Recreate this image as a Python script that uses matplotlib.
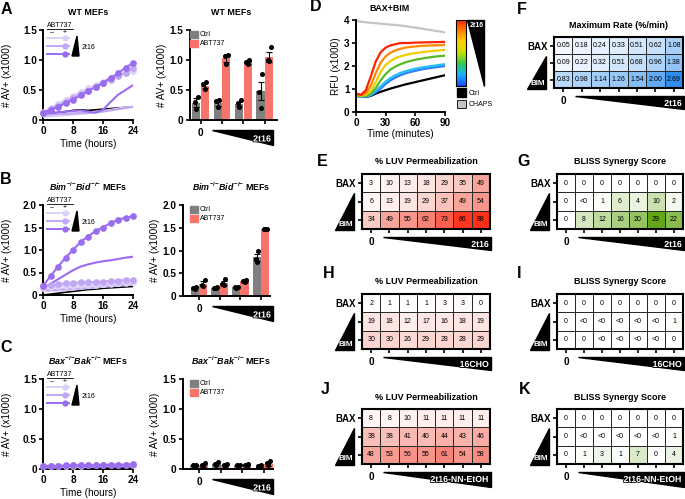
import numpy as np
import matplotlib
matplotlib.use('Agg')
import matplotlib.pyplot as plt
from matplotlib.colors import LinearSegmentedColormap
from matplotlib.patches import Polygon, Rectangle
import matplotlib.patheffects as pe

plt.rcParams['font.family'] = ['Liberation Sans', 'DejaVu Sans']
plt.rcParams['font.weight'] = 'bold'
plt.rcParams['mathtext.fontset'] = 'custom'
plt.rcParams['mathtext.rm'] = 'Liberation Sans:bold'
plt.rcParams['mathtext.it'] = 'Liberation Sans:italic:bold'
plt.rcParams['mathtext.bf'] = 'Liberation Sans:bold'

# ---------------- data ----------------
hours = [0, 2, 4, 6, 8, 10, 12, 14, 16, 18, 20, 22, 24]

A_black = [0.08, 0.10, 0.12, 0.14, 0.16, 0.17, 0.16, 0.17, 0.18, 0.19, 0.20, 0.21, 0.22]
A_minus = [[0.05, 0.06, 0.07, 0.08, 0.09, 0.10, 0.11, 0.13, 0.15, 0.17, 0.19, 0.21, 0.22],
           [0.08, 0.09, 0.10, 0.10, 0.11, 0.12, 0.12, 0.13, 0.14, 0.16, 0.18, 0.20, 0.22],
           [0.10, 0.12, 0.13, 0.14, 0.15, 0.16, 0.14, 0.12, 0.17, 0.30, 0.42, 0.50, 0.58]]
A_plus = [[0.14, 0.20, 0.27, 0.34, 0.40, 0.47, 0.53, 0.58, 0.64, 0.70, 0.74, 0.78, 0.82],
          [0.12, 0.18, 0.24, 0.30, 0.37, 0.43, 0.49, 0.55, 0.61, 0.67, 0.73, 0.79, 0.86],
          [0.12, 0.17, 0.22, 0.28, 0.34, 0.41, 0.48, 0.55, 0.62, 0.70, 0.78, 0.87, 0.95]]

B_black = [0.00, 0.02, 0.04, 0.06, 0.08, 0.10, 0.12, 0.13, 0.15, 0.16, 0.17, 0.18, 0.19]
B_minus = [[0.08, 0.09, 0.10, 0.11, 0.12, 0.14, 0.15, 0.17, 0.18, 0.20, 0.21, 0.22, 0.24],
           [0.10, 0.11, 0.12, 0.13, 0.14, 0.15, 0.16, 0.17, 0.19, 0.20, 0.22, 0.23, 0.25],
           [0.15, 0.25, 0.35, 0.45, 0.55, 0.63, 0.68, 0.72, 0.75, 0.77, 0.80, 0.83, 0.85]]
B_plus = [[0.15, 0.17, 0.19, 0.20, 0.21, 0.22, 0.22, 0.23, 0.24, 0.25, 0.26, 0.27, 0.28],
          [0.20, 0.22, 0.24, 0.26, 0.27, 0.28, 0.28, 0.29, 0.30, 0.31, 0.32, 0.33, 0.33],
          [0.20, 0.42, 0.63, 0.83, 1.00, 1.18, 1.30, 1.42, 1.50, 1.60, 1.67, 1.72, 1.75]]

C_black = [0.02, 0.02, 0.02, 0.02, 0.02, 0.02, 0.02, 0.02, 0.02, 0.02, 0.02, 0.02, 0.02]
C_minus = [[0.03, 0.03, 0.03, 0.04, 0.04, 0.04, 0.04, 0.04, 0.05, 0.05, 0.05, 0.05, 0.06],
           [0.03, 0.03, 0.04, 0.04, 0.04, 0.04, 0.05, 0.05, 0.05, 0.05, 0.05, 0.06, 0.06],
           [0.04, 0.04, 0.04, 0.04, 0.05, 0.05, 0.05, 0.05, 0.05, 0.06, 0.06, 0.06, 0.06]]
C_plus = [[0.05, 0.05, 0.05, 0.05, 0.05, 0.05, 0.06, 0.06, 0.06, 0.06, 0.06, 0.07, 0.07],
          [0.05, 0.05, 0.05, 0.05, 0.06, 0.06, 0.06, 0.06, 0.06, 0.07, 0.07, 0.07, 0.07],
          [0.05, 0.05, 0.05, 0.06, 0.06, 0.06, 0.06, 0.06, 0.07, 0.07, 0.07, 0.07, 0.08]]

bar_groups = ['0', 'low', 'mid', 'high']
A_ctrl_mean = [0.29, 0.28, 0.27, 0.48]
A_ctrl_sem = [0.07, 0.04, 0.03, 0.15]
A_ctrl_pts = [[0.38, 0.30, 0.18], [0.33, 0.32, 0.21], [0.33, 0.28, 0.22], [0.77, 0.47, 0.20]]
A_abt_mean = [0.57, 1.03, 0.96, 1.05]
A_abt_sem = [0.04, 0.06, 0.03, 0.09]
A_abt_pts = [[0.63, 0.60, 0.52], [1.09, 1.07, 0.93], [1.00, 0.97, 0.93], [1.22, 1.00, 0.98]]

B_ctrl_mean = [0.18, 0.18, 0.19, 0.85]
B_ctrl_sem = [0.02, 0.01, 0.01, 0.07]
B_ctrl_pts = [[0.20, 0.18, 0.16], [0.19, 0.18, 0.17], [0.20, 0.19, 0.18], [1.00, 0.82, 0.75]]
B_abt_mean = [0.27, 0.29, 0.33, 1.47]
B_abt_sem = [0.05, 0.04, 0.02, 0.01]
B_abt_pts = [[0.35, 0.25, 0.22], [0.37, 0.26, 0.24], [0.36, 0.33, 0.31], [1.47, 1.47, 1.47]]

C_ctrl_mean = [0.06, 0.08, 0.06, 0.05]
C_ctrl_sem = [0.01, 0.02, 0.01, 0.01]
C_ctrl_pts = [[0.07, 0.06, 0.05], [0.11, 0.08, 0.06], [0.07, 0.06, 0.05], [0.07, 0.05, 0.04]]
C_abt_mean = [0.06, 0.06, 0.06, 0.08]
C_abt_sem = [0.02, 0.01, 0.01, 0.03]
C_abt_pts = [[0.10, 0.07, 0.04], [0.08, 0.06, 0.05], [0.08, 0.06, 0.05], [0.14, 0.10, 0.06]]

minutes = [0, 5, 10, 15, 20, 25, 30, 35, 40, 45, 50, 55, 60, 65, 70, 75, 80, 85, 90]
D_chaps = [3.95, 3.93, 3.90, 3.88, 3.86, 3.84, 3.82, 3.80, 3.78, 3.76, 3.73, 3.70, 3.67, 3.64, 3.60, 3.57, 3.53, 3.50, 3.46]
D_ctrl = [0.72, 0.66, 0.65, 0.70, 0.80, 0.88, 0.95, 1.02, 1.08, 1.14, 1.20, 1.25, 1.30, 1.35, 1.40, 1.45, 1.50, 1.55, 1.60]
D_blue = [0.70, 0.65, 0.66, 0.72, 0.86, 1.02, 1.22, 1.38, 1.50, 1.60, 1.68, 1.74, 1.79, 1.84, 1.88, 1.91, 1.94, 1.97, 2.00]
D_cyan = [0.72, 0.66, 0.68, 0.75, 0.92, 1.12, 1.32, 1.48, 1.60, 1.70, 1.77, 1.83, 1.88, 1.92, 1.96, 1.99, 2.02, 2.05, 2.08]
D_green = [0.74, 0.68, 0.70, 0.80, 1.05, 1.38, 1.65, 1.85, 1.98, 2.08, 2.16, 2.22, 2.27, 2.31, 2.35, 2.38, 2.41, 2.43, 2.45]
D_yellow = [0.76, 0.70, 0.75, 0.92, 1.30, 1.75, 2.05, 2.22, 2.34, 2.42, 2.48, 2.53, 2.56, 2.59, 2.62, 2.64, 2.66, 2.68, 2.70]
D_orange = [0.78, 0.72, 0.82, 1.15, 1.70, 2.15, 2.42, 2.58, 2.68, 2.75, 2.80, 2.83, 2.85, 2.87, 2.88, 2.89, 2.90, 2.90, 2.92]
D_red = [0.80, 0.75, 0.95, 1.55, 2.20, 2.60, 2.80, 2.90, 2.95, 3.00, 3.00, 3.00, 3.02, 3.02, 3.03, 3.03, 3.04, 3.04, 3.05]

row_labels = ['BAX', '', '']
F_rate = [[0.05, 0.18, 0.24, 0.33, 0.51, 0.62, 1.08],
          [0.09, 0.22, 0.32, 0.51, 0.68, 0.96, 1.38],
          [0.83, 0.98, 1.14, 1.26, 1.54, 2.00, 2.69]]
E_perm = [[3, 10, 13, 18, 29, 35, 49],
          [6, 13, 19, 29, 37, 49, 54],
          [34, 49, 55, 62, 73, 86, 88]]
G_bliss = [[0, 0, 0, 0, 0, 0, 0],
           [0, -1, 1, 6, 4, 10, 2],
           [0, 8, 12, 16, 20, 29, 22]]
H_perm = [[2, 1, 1, 1, 3, 3, 0],
          [19, 18, 12, 17, 16, 18, 19],
          [30, 30, 26, 29, 28, 28, 29]]
I_bliss = [[0, 0, 0, 0, 0, 0, 0],
           [0, -1, -1, -1, -1, -1, 1],
           [0, 0, -1, -1, -1, -1, 0]]
J_perm = [[8, 8, 10, 11, 11, 11, 11],
          [38, 38, 41, 40, 44, 43, 46],
          [48, 53, 56, 55, 61, 54, 58]]
K_bliss = [[0, 0, 0, 0, 0, 0, 0],
           [0, -1, -1, -1, -1, -1, 1],
           [0, 1, 3, 1, 7, 0, 4]]

title_B = r'$Bim^{{-}/{-}}Bid^{{-}/{-}}$ MEFs'
title_C = r'$Bax^{{-}/{-}}Bak^{{-}/{-}}$ MEFs'

# ---------------- styling ----------------
W, H = 685, 499
fig = plt.figure(figsize=(6.85, 4.99), dpi=100)


def P(l, t, r, b):
    return [l / W, 1 - b / H, (r - l) / W, (b - t) / H]


ov = fig.add_axes([0, 0, 1, 1])
ov.set_xlim(0, W)
ov.set_ylim(H, 0)
ov.axis('off')
ov.set_zorder(20)

purples = ['#ddd0f8', '#c0a6f3', '#9a6cf0']
grey = '#7f7f7f'
salmon = '#f8736a'
white_fx = [pe.withStroke(linewidth=1.2, foreground='black')]


def style(ax, lw=1.4):
    for s in ['top', 'right']:
        ax.spines[s].set_visible(False)
    for s in ['left', 'bottom']:
        ax.spines[s].set_linewidth(lw)
    ax.tick_params(width=1.2, length=3, labelsize=7.2, pad=1.5)


def otext(x, y, s, size=6.5, **kw):
    kw.setdefault('ha', 'center')
    kw.setdefault('va', 'center')
    ov.text(x, y, s, fontsize=size, **kw)


def line_panel(box, title, black, minus, plus, ymax, yticks, ylabels):
    l, t, r, b = box
    ax = fig.add_axes(P(l, t, r, b))
    ax.plot(hours, black, color='k', lw=1.2, zorder=2)
    for i in range(3):
        ax.plot(hours, minus[i], color=purples[i], lw=1.5, zorder=3)
    for i in range(3):
        ax.plot(hours, plus[i], color=purples[i], lw=1.5, marker='o', ms=3.8,
                zorder=4, clip_on=False)
    ax.set_xlim(0, 24)
    ax.set_ylim(0, ymax)
    ax.set_xticks([0, 8, 16, 24])
    ax.set_yticks(yticks)
    ax.set_yticklabels(ylabels)
    style(ax)
    ax.set_xlabel('Time (hours)', fontsize=7.2)
    ax.xaxis.set_label_coords(0.5, -19 / (b - t))
    ax.set_ylabel('# AV+ (x1000)', fontsize=7.2)
    ax.yaxis.set_label_coords(-31 / (r - l), 0.5)
    otext((l + r) / 2, t - 18, title, 6.4)
    # legend
    otext(60, t - 5, 'ABT737', 5, fontweight='normal')
    ov.plot([47, 73], [t - 1.5, t - 1.5], color='k', lw=0.6)
    otext(52, t + 2.5, '\u2013', 5, fontweight='normal')
    otext(65, t + 2.5, '+', 5, fontweight='normal')
    for i, dy in enumerate([8, 16, 24]):
        ov.plot([47, 69], [t + dy, t + dy], color=purples[i], lw=1.4)
        ov.plot([65], [t + dy], 'o', color=purples[i], ms=3.5)
    ov.add_patch(Polygon([(77, t + 6), (79, t + 26), (72, t + 26)], closed=True,
                         color='k'))
    otext(82, t + 17, '2t16', 5, ha='left', fontweight='normal')
    return ax


def bar_panel(box, title, xl, cm, cs, cp, am, asem, ap, ymax, yticks, ylabels):
    l, t, r, b = box
    ax = fig.add_axes(P(l, t, r, b))
    x = np.arange(len(bar_groups))
    off, wd = 0.2, 0.39
    ax.bar(x - off, cm, wd, color=grey, zorder=1)
    ax.bar(x + off, am, wd, color=salmon, zorder=1)
    ax.errorbar(x - off, cm, yerr=cs, fmt='none', ecolor='k', elinewidth=0.8,
                capsize=2, capthick=0.8, zorder=3)
    ax.errorbar(x + off, am, yerr=asem, fmt='none', ecolor='k', elinewidth=0.8,
                capsize=2, capthick=0.8, zorder=3)
    jit = [0.07, -0.07, 0.0]
    for g in range(len(bar_groups)):
        for k in range(3):
            ax.plot(g - off + jit[k], cp[g][k], 'o', color='k', ms=2.6, zorder=4,
                    clip_on=False)
            ax.plot(g + off + jit[k], ap[g][k], 'o', color='k', ms=2.6, zorder=4,
                    clip_on=False)
    ax.set_xlim(*xl)
    ax.set_ylim(0, ymax)
    ax.set_xticks(x)
    ax.set_xticklabels([])
    ax.set_yticks(yticks)
    ax.set_yticklabels(ylabels)
    style(ax)
    ax.set_ylabel('# AV+ (x1000)', fontsize=7.2)
    ax.yaxis.set_label_coords(-23 / (r - l), 0.5)
    otext(231, t - 18, title, 6.4)
    ax.annotate('0', xy=(0, 0), xycoords=('data', 'axes fraction'),
                xytext=(0, -13 * 0.72), textcoords='offset points',
                ha='center', va='center', fontsize=7.2)
    ov.add_patch(Polygon([(212, b + 10), (273, b + 10), (273, b + 25)],
                         closed=True, color='k'))
    otext(271, b + 19, '2t16', 6.4, ha='right', color='white', path_effects=white_fx)
    # legend
    ov.add_patch(Rectangle((190, t + 1), 8, 7, color=grey))
    ov.add_patch(Rectangle((190, t + 10), 8, 7, color=salmon))
    otext(200, t + 4.5, 'Ctrl', 5, ha='left', fontweight='normal')
    otext(200, t + 13.5, 'ABT737', 5, ha='left', fontweight='normal')
    return ax


def heatmap(box, vals, cmap, vmax, fmt, title, drug, long=False):
    l, t, r, b = box
    ax = fig.add_axes(P(l, t, r, b))
    arr = np.array(vals, float)
    ax.pcolormesh(np.arange(8), np.arange(4), np.clip(arr, 0, None), cmap=cmap,
                  vmin=0, vmax=vmax, edgecolors='#2a2a2a', linewidth=0.5)
    ax.set_xlim(0, 7)
    ax.set_ylim(3, 0)
    for i in range(3):
        for j in range(7):
            ax.text(j + 0.5, i + 0.5, fmt(arr[i, j]), ha='center', va='center',
                    fontsize=5.0, fontweight='normal')
    ax.set_xticks(np.arange(7) + 0.5)
    ax.set_xticklabels([])
    ax.set_yticks([0.5, 1.5, 2.5])
    ax.set_yticklabels(row_labels)
    for s in ax.spines.values():
        s.set_linewidth(1.5)
    ax.tick_params(length=3, width=1.2, labelsize=7, pad=1.5)
    rh = (b - t) / 3
    otext((l + r) / 2, t - 12, title, 6.5)
    # BIM triangle
    ov.add_patch(Polygon([(l - 8, t + rh * 0.5 + 10), (l - 8, b + 1), (l - 27, b + 1)],
                         closed=True, color='k'))
    otext(l - 16, b - 5, 'BIM', 5.8, color='white')
    # drug triangle
    bb = b + 23 if long else b + 21
    ov.add_patch(Polygon([(l + 21, b + 8), (r + 1, b + 8), (r + 1, bb)],
                         closed=True, color='k'))
    otext(r - 1, b + 15.5, drug, 6.3, ha='right', color='white', path_effects=white_fx)
    otext(l + (r - l) / 14, b + 13, '0', 7.2)
    return ax


# ---------------- panels A-C ----------------
line_panel((43, 30, 133, 120), 'WT MEFs', A_black, A_minus, A_plus, 1.5,
           [0, 0.5, 1.0, 1.5], ['0', '0.5', '1.0', '1.5'])
line_panel((43, 205, 133, 295), title_B, B_black, B_minus, B_plus,
           2.0, [0, 0.5, 1.0, 1.5, 2.0], ['0', '0.5', '1.0', '1.5', '2.0'])
line_panel((43, 379, 133, 469), title_C, C_black, C_minus, C_plus,
           1.5, [0, 0.5, 1.0, 1.5], ['0', '0.5', '1.0', '1.5'])

bar_panel((190, 30, 277, 120), 'WT MEFs', (-0.49, 3.56), A_ctrl_mean, A_ctrl_sem,
          A_ctrl_pts, A_abt_mean, A_abt_sem, A_abt_pts, 1.5,
          [0, 0.5, 1.0, 1.5], ['0', '0.5', '1.0', '1.5'])
bar_panel((183, 205, 270, 296), title_B, (-0.77, 3.43),
          B_ctrl_mean, B_ctrl_sem, B_ctrl_pts, B_abt_mean, B_abt_sem, B_abt_pts, 2.0,
          [0, 0.5, 1.0, 1.5, 2.0], ['0', '0.5', '1.0', '1.5', '2.0'])
bar_panel((183, 379, 273, 469), title_C, (-0.74, 3.41),
          C_ctrl_mean, C_ctrl_sem, C_ctrl_pts, C_abt_mean, C_abt_sem, C_abt_pts, 1.5,
          [0, 0.5, 1.0, 1.5], ['0', '0.5', '1.0', '1.5'])

# ---------------- panel D ----------------
axD = fig.add_axes(P(356, 20, 445, 112))
D_colors = ['#2f7cff', '#22c0f0', '#55bb22', '#f0cc00', '#ff8800', '#ff2200']
axD.plot(minutes, D_chaps, color='#c4c4c4', lw=1.6)
axD.plot(minutes, D_ctrl, color='k', lw=1.6)
for vals, c in zip([D_blue, D_cyan, D_green, D_yellow, D_orange, D_red], D_colors):
    axD.plot(minutes, vals, color=c, lw=1.6)
axD.set_xlim(0, 90)
axD.set_ylim(0, 4)
axD.set_xticks([0, 30, 60, 90])
axD.set_yticks([0, 1, 2, 3, 4])
style(axD)
axD.set_xlabel('Time (minutes)', fontsize=7.2)
axD.xaxis.set_label_coords(0.5, -17 / 92)
axD.set_ylabel('RFU (x1000)', fontsize=7.2)
axD.yaxis.set_label_coords(-15 / 89, 0.5)
otext(390, 8, 'BAX+BIM', 6.4)

rainbow = LinearSegmentedColormap.from_list(
    'rb', ['#1a4cff', '#18b4ff', '#30cc50', '#c8e000', '#ffd000', '#ff8000', '#ff1a00'])
gax = fig.add_axes(P(456, 20, 466, 86))
gax.imshow(np.linspace(1, 0, 200)[:, None], aspect='auto', cmap=rainbow)
gax.set_xticks([])
gax.set_yticks([])
for s in gax.spines.values():
    s.set_linewidth(0.8)
ov.add_patch(Polygon([(467, 20), (484, 20), (484, 86)], closed=True, color='k'))
otext(477, 25, '2t16', 5, color='white')
ov.add_patch(Rectangle((457, 88), 9, 9, color='k'))
ov.add_patch(Rectangle((457, 100), 9, 8, facecolor='#c4c4c4', edgecolor='k', lw=0.6))
otext(469, 93, 'Ctrl', 5, ha='left', fontweight='normal')
otext(469, 104.5, 'CHAPS', 5, ha='left', fontweight='normal')

# ---------------- heatmaps ----------------
reds = LinearSegmentedColormap.from_list('reds', ['#ffffff', '#fbd4cf', '#f5887c', '#ff2a12'])
blues = LinearSegmentedColormap.from_list('blues', ['#f7fbff', '#2b8cee'])
greens = LinearSegmentedColormap.from_list('greens', ['#ffffff', '#5fa510'])


def f_rate(v):
    return f'{v:.2f}'


def f_int(v):
    return str(int(v))


def f_bliss(v):
    return '<0' if v < 0 else str(int(v))


heatmap((554, 37, 683, 88), F_rate, blues, 2.75, f_rate, 'Maximum Rate (%/min)', '2t16')
heatmap((362, 174, 490, 229), E_perm, reds, 90, f_int, '% LUV Permeabilization', '2t16')
heatmap((557, 174, 683, 229), G_bliss, greens, 30, f_bliss, 'BLISS Synergy Score', '2t16')
heatmap((362, 294, 490, 349), H_perm, reds, 90, f_int, '% LUV Permeabilization', '16CHO')
heatmap((557, 294, 683, 349), I_bliss, greens, 30, f_bliss, 'BLISS Synergy Score', '16CHO')
heatmap((362, 409, 490, 464), J_perm, reds, 90, f_int, '% LUV Permeabilization',
        '2t16-NN-EtOH', long=True)
heatmap((557, 409, 683, 464), K_bliss, greens, 30, f_bliss, 'BLISS Synergy Score',
        '2t16-NN-EtOH', long=True)

# ---------------- panel letters ----------------
for letter, x, y in [('A', 1, 9), ('B', 0, 179), ('C', 0, 347), ('D', 310, 6),
                     ('E', 317, 162), ('F', 517, 9), ('G', 517, 162), ('H', 323, 274),
                     ('I', 517, 273), ('J', 321, 390), ('K', 519, 390)]:
    otext(x, y, letter, 11.5, ha='left')

fig.savefig('out.png', dpi=100)
